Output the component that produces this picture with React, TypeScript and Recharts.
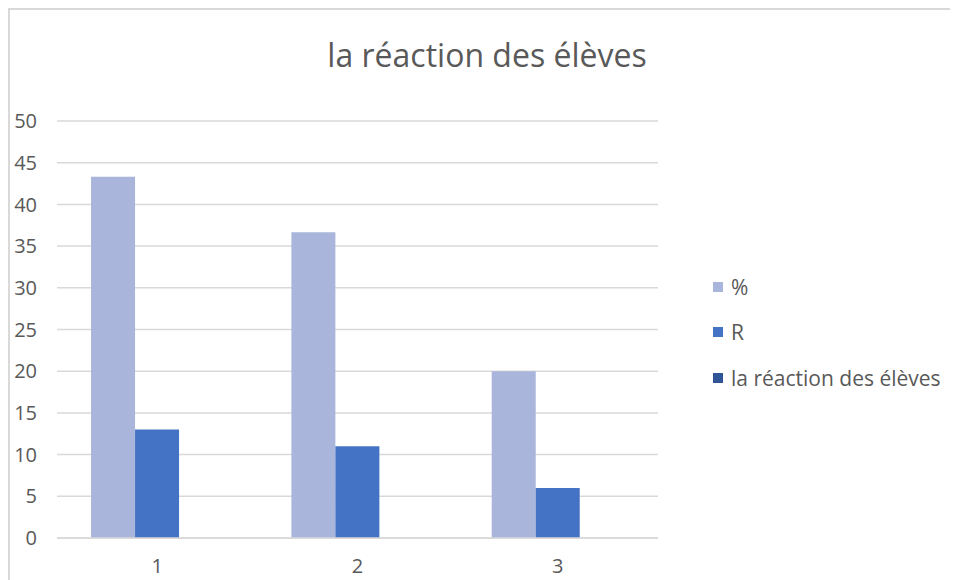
import React from "react";
import { BarChart, Bar, XAxis, YAxis, CartesianGrid, Legend } from "recharts";

const categories = ["1", "2", "3"];
const pctValues = [43.33, 36.67, 20];
const rValues = [13, 11, 6];
const reactionValues: (number | null)[] = [null, null, null];
const yTicks = [0, 5, 10, 15, 20, 25, 30, 35, 40, 45, 50];

const TITLE = "la réaction des élèves";
const FONT = "'Open Sans', 'Noto Sans', sans-serif";
const TEXT = "#595959";
const GRID = "#d9d9d9";

const data = categories.map((c, i) => ({
  cat: c,
  pct: pctValues[i],
  r: rValues[i],
  reaction: reactionValues[i],
}));

function LegendBox({ payload }: { payload?: Array<{ value: string; color: string }> }) {
  if (!payload) return null;
  return (
    <div style={{ fontFamily: FONT }}>
      {payload.map((p) => (
        <div
          key={p.value}
          style={{ height: 45.5, display: "flex", alignItems: "center" }}
        >
          <div
            style={{ width: 10, height: 10, background: p.color, marginRight: 8 }}
          />
          <span style={{ fontSize: 21, color: TEXT }}>{p.value}</span>
        </div>
      ))}
    </div>
  );
}

export default function App() {
  return (
    <div style={{ position: "relative", width: 942, height: 570, paddingTop: 2 }}>
      {/* chart frame: only the top and left edges are in view */}
      <div
        style={{
          position: "absolute",
          left: 0,
          top: 0,
          width: 2,
          height: 572,
          background: GRID,
          zIndex: 2,
        }}
      />
      <div
        style={{
          position: "absolute",
          left: 0,
          top: 0,
          width: 942,
          height: 2,
          background: GRID,
        }}
      />
      <div
        style={{
          position: "absolute",
          left: 9,
          width: 940,
          top: 25,
          textAlign: "center",
          fontFamily: FONT,
          fontSize: 32,
          color: TEXT,
          zIndex: 1,
        }}
      >
        {TITLE}
      </div>
      <BarChart
        width={940}
        height={570}
        data={data}
        margin={{ top: 111, right: 290, left: 9, bottom: 12 }}
        barCategoryGap="17%"
        barGap={0}
      >
        <CartesianGrid vertical={false} stroke={GRID} strokeWidth={1.5} />
        <XAxis
          dataKey="cat"
          height={30}
          tickLine={false}
          axisLine={{ stroke: GRID, strokeWidth: 1.5 }}
          tick={{ fill: TEXT, fontSize: 20, fontFamily: FONT }}
          tickMargin={15}
          interval={0}
        />
        <YAxis
          width={40}
          domain={[0, 50]}
          ticks={yTicks}
          tickLine={false}
          axisLine={false}
          tick={{ fill: TEXT, fontSize: 20, fontFamily: FONT }}
          tickMargin={14}
        />
        <Legend
          layout="horizontal"
          align="center"
          verticalAlign="middle"
          content={<LegendBox />}
          wrapperStyle={{ left: 705, top: 254, width: 235 }}
        />
        <Bar dataKey="pct" name="%" fill="#a9b5da" isAnimationActive={false} />
        <Bar dataKey="r" name="R" fill="#4472c4" isAnimationActive={false} />
        <Bar
          dataKey="reaction"
          name={TITLE}
          fill="#2f5597"
          isAnimationActive={false}
        />
      </BarChart>
    </div>
  );
}
